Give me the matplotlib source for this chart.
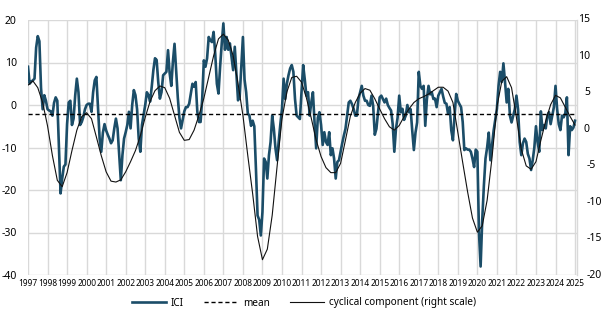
import matplotlib.pyplot as plt
import numpy as np

# ICI, monthly from Jan 1997 (left scale)
ici = [
    9, 5, 5.5, 5.8, 6.2, 13.5, 16.2, 15, 4, -1, 2.3, 1,                      # 1997
    -1, -1.3, -1.5, -2.5, 0.5, 1.8, 1, -10, -20.8, -17.3, -14.5, -14,        # 1998
    -4.5, 0.6, 1, -4.7, -3.2, 2.3, 6.2, 3, -4.7, -4, -2.8, -1,               # 1999
    0, 0.3, 0.3, -1.6, 3, 5.8, 6.6, -0.9, -7.9, -11, -6.5, -4.5,             # 2000
    -6, -7, -7.9, -9, -8.3, -5.5, -3.2, -5.5, -11.8, -17.7, -11.8, -7.9,     # 2001
    -6.4, -4.7, -1.6, -5.5, 0, 3.5, 2.3, -1, -7.9, -11, -4.7, -2.4,          # 2002
    0, 3, 2.3, 0.8, 4.3, 8.2, 11, 10.6, 5.4, 1.5, 3, 7,                      # 2003
    7.4, 7.8, 12.9, 7.5, 4.5, 10.2, 14.4, 8, 1.8, -3, -5.5, -3.5,            # 2004
    -1.5, -0.5, -0.5, 0.3, 2.6, 5, 4.3, 5.4, -1.6, -4, -4, 1.5,              # 2005
    10.5, 9, 11, 16, 15.2, 14.8, 17.2, 12, 5, 2.7, 9, 14.5,                  # 2006
    19.2, 13, 16, 13, 14.5, 11.3, 8.2, 13.7, 7.4, 1.1, 1.9, 9,               # 2007
    16, 6, 3, -2, -2.5, -4.9, -3.7, -5, -15, -26, -27, -30.7,                # 2008
    -25.2, -12.6, -13.4, -17.3, -11.8, -8.7, -2.5, -5.6, -10.2, -13, -8.5, -4.5,  # 2009
    -0.9, 6.2, 1.4, 5, 7, 8.6, 9.4, 7.8, 1.4, -2.5, -2.9, -3.3,              # 2010
    3, 9.4, 6, 2.2, 3, -2.5, 0.6, 3, -4.1, -10.2, -3, -1.7,                  # 2011
    -4.7, -9.4, -6.4, -8.7, -9.4, -6.4, -11.8, -10.2, -12.6, -17.3, -13.4, -13,  # 2012
    -11, -9, -7.2, -5.6, -2.5, 0.6, 1, 0.2, -0.9, -2.5, -2.5, 1.5,           # 2013
    3, 4.5, 2.2, 1, 1, 0, -0.2, 2.2, -0.2, -7, -5.6, -1.7,                   # 2014
    1.8, 2.2, 1.4, 0.6, 1.5, 0, -0.7, -1.3, -4.5, -11, -5.6, -3,             # 2015
    2.2, -1.7, -0.9, -3.5, -2.5, 0, -1.7, -1, -6, -10.6, -6.5, -4.1,         # 2016
    7.8, 4.5, 3.8, 4.5, -4.9, 1.4, 4.5, 2.5, 3, 1.4, 1.5, -0.5,              # 2017
    2.2, 3, 3.8, 2, 0.5, 0.3, -2.1, -0.5, -6, -8.3, -2.5, 2.6,               # 2018
    1, 0.2, -0.5, -4, -10.6, -10.2, -10.5, -10.5, -11, -12.6, -14.6, -10.5,  # 2019
    -11, -30, -38, -27, -19, -12.6, -10, -6.5, -13, -9.5, -6, -3.5,          # 2020
    -0.9, 4.5, 7.8, 5.4, 9.8, 5.4, 0.6, 3.8, -2.5, -4.1, -2.5, -1,           # 2021
    2.2, -1, -8.7, -11.8, -9, -7.9, -8.7, -11.5, -12.6, -15.3, -13, -10,     # 2022
    -5, -8.7, -11, -1.5, -5.9, -4.7, -5.5, -2.5, -1.7, -4.5, -2.5, -0.5,     # 2023
    4.5, -1, -4.5, -5.9, -2.5, -2.9, -2, 1.8, -11.8, -5, -5.9, -5.3,         # 2024
    -3.7,                                                                    # 2025
]
ici_mean = -2.2

# cyclical component, quarterly from Q1 1997 (right scale)
cyclical = [
    6.06, 6.64, 5.71, 3.67,
    0.46, -3.62, -7.0, -7.88,
    -5.95, -2.92, -0.12, 1.74,
    2.27, 1.45, -1.06, -3.62,
    -5.84, -7.12, -7.24, -6.94,
    -5.84, -4.44, -2.92, -0.88,
    1.63, 3.84, 5.3, 5.94,
    5.71, 4.25, 1.92, -0.42,
    -1.52, -1.41, -0.12, 1.92,
    4.25, 7.17, 10.08, 12.41,
    13.06, 12.24, 10.08, 6.29,
    1.92, -3.62, -8.87, -14.7,
    -17.9, -16.45, -11.78, -5.08,
    1.45, 5.12, 7.11, 7.28,
    6.47, 4.31, 1.51, -1.47,
    -3.74, -5.26, -5.95, -5.95,
    -4.67, -1.47, 1.8, 3.67,
    4.95, 5.59, 5.36, 4.19,
    2.79, 1.45, 0.34, -0.12,
    0.52, 1.74, 2.79, 3.67,
    4.19, 4.48, 4.83, 5.3,
    5.77, 5.77, 5.24, 3.67,
    -0.42, -4.56, -8.58, -12.19,
    -14.12, -13.24, -9.74, -3.91,
    3.08, 6.58, 7.22, 5.71,
    1.63, -2.75, -5.02, -5.49,
    -4.44, -1.52, 1.16, 3.38,
    4.66, 4.31, 3.03, 1.74,
    0.58,
]

years = list(range(1997, 2026))
left_ticks = [20, 10, 0, -10, -20, -30, -40]
right_ticks = [15, 10, 5, 0, -5, -10, -15, -20]

ici_x = 1997 + np.arange(len(ici)) / 12
cyc_x = 1997 + np.arange(len(cyclical)) / 4

W, H = 605, 321
fig = plt.figure(figsize=(W / 100, H / 100), dpi=100)
ax = fig.add_axes([28 / W, 1 - 275 / H, (577 - 28) / W, 255 / H])
ax2 = ax.twinx()

grid_c = '#d9d9d9'
ax.set_xlim(1997, 2025.1)
ax.set_ylim(-40, 20)
ax2.set_ylim(-20, 15)
ax.set_xticks(years)
ax.set_xticklabels([str(y) for y in years], fontsize=6, family='Noto Sans')
ax.set_yticks(left_ticks)
ax.set_yticklabels([str(t) for t in left_ticks], fontsize=7.5, family='Noto Sans')
ax.tick_params(axis='x', length=0, pad=3)
ax.tick_params(axis='y', length=0, pad=8)
ax.grid(True, color=grid_c, lw=1.0)
ax.set_axisbelow(True)
for s in ['top', 'left', 'bottom']:
    ax.spines[s].set_visible(False)
    ax2.spines[s].set_visible(False)
ax.spines['right'].set_visible(False)
ax2.spines['right'].set_color(grid_c)
ax2.spines['right'].set_linewidth(1.0)

ax2.set_yticks(right_ticks)
ax2.set_yticklabels([])
ax2.tick_params(axis='y', length=0)
# right-scale labels (minus sign hanging as in the original)
for t in right_ticks:
    if t >= 0:
        ax2.text(1.0235, t, str(t), transform=ax2.get_yaxis_transform(),
                 ha='right', va='center', fontsize=7.5, family='Noto Sans')
    else:
        ax2.text(1.0175, t, str(t), transform=ax2.get_yaxis_transform(),
                 ha='left', va='center', fontsize=7.5, family='Noto Sans')

l1, = ax.plot(ici_x, ici, color='#1b4d68', lw=1.9, solid_joinstyle='round', label='ICI')
l2 = ax.axhline(ici_mean, color='black', lw=1.0, dashes=(3, 2), label='mean')
l3, = ax2.plot(cyc_x, cyclical, color='#111111', lw=0.8, label='cyclical component (right scale)')

fig.legend(handles=[l1, l2, l3], loc='center', bbox_to_anchor=(0.5025, 1 - 303 / H),
           ncol=3, frameon=False, prop={'family': 'Noto Sans', 'size': 7.2},
           handlelength=3.4, handletextpad=0.5, columnspacing=2.0)

fig.savefig('out.png', dpi=100)
